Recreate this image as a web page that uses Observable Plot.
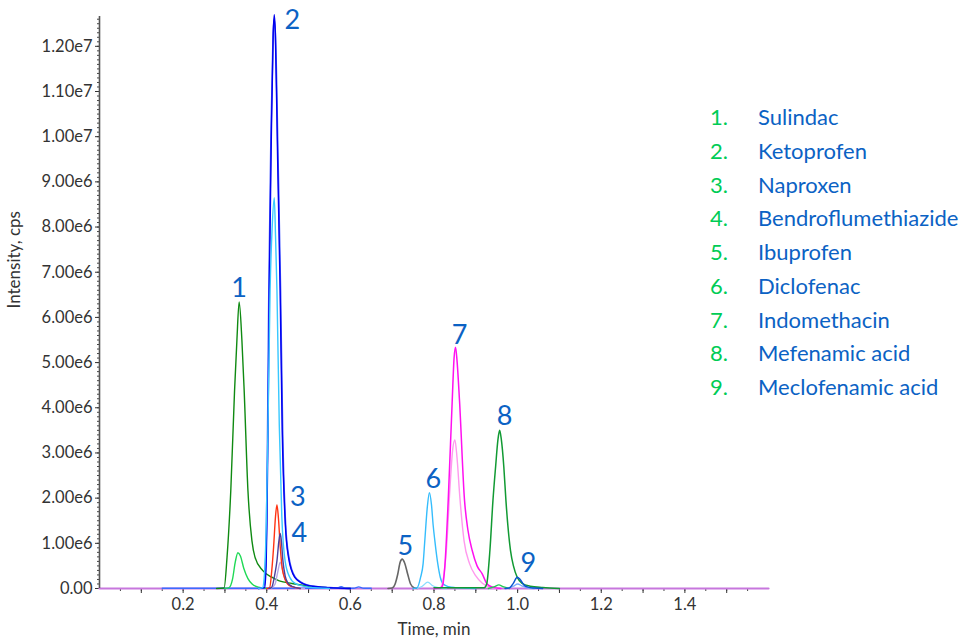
<!DOCTYPE html>
<html><head><meta charset="utf-8">
<script src="https://cdn.jsdelivr.net/npm/d3@7"></script>
<script src="https://cdn.jsdelivr.net/npm/@observablehq/plot@0.6"></script>
<style>
body{margin:0;background:#fff;font-family:Lato,"Open Sans",sans-serif;}
#wrap{position:relative;width:965px;height:638px;overflow:hidden;}
#legend{position:absolute;left:710px;top:100px;font-size:22px;}
#legend .row{height:33.75px;line-height:33.75px;white-space:nowrap;}
#legend .num{display:inline-block;width:48px;color:#00cc55;}
#legend .name{color:#0b62c4;}
</style></head><body><div id="wrap"><div id="legend"></div></div>
<script>
// ---- data (time in min, intensity in 1e6 cps) ----
const compounds = ["Sulindac","Ketoprofen","Naproxen","Bendroflumethiazide","Ibuprofen","Diclofenac","Indomethacin","Mefenamic acid","Meclofenamic acid"];
const peakNumbers = ["1","2","3","4","5","6","7","8","9"];

const baselineTrace = [[0,0],[1.6,0]];
const blueBaseTrace = [[0.15,0.005],[0.565,0.005],[0.578,0.04],[0.59,0.005],[0.608,0.005],[0.62,0.035],[0.632,0.005],[0.65,0.005]];
const sulindacTrace = [[0.28,0],[0.298,0.01],[0.305,0.69],[0.314,2.17],[0.323,4.38],[0.3286,5.49],[0.334,6.34],[0.3406,5.49],[0.346,4.38],[0.355,2.17],[0.3645,1.06],[0.372,0.69],[0.39,0.4],[0.412,0.25],[0.43,0.17],[0.46,0.11],[0.5,0.05],[0.55,0.02],[0.6,0]];
const sulindacSmallTrace = [[0.30,0],[0.31,0.02],[0.318,0.2],[0.325,0.6],[0.331,0.79],[0.337,0.72],[0.345,0.45],[0.355,0.22],[0.365,0.1],[0.38,0.03],[0.40,0]];
const ketoprofenTrace = [[0.38,0],[0.395,0.02],[0.3985,0.5],[0.4004,1.44],[0.403,3.5],[0.406,6.6],[0.411,10.0],[0.4155,12.3],[0.418,12.7],[0.4205,12.3],[0.426,9.5],[0.432,6.6],[0.437,3.5],[0.4443,1.44],[0.452,0.69],[0.4667,0.25],[0.484,0.12],[0.51,0.05],[0.55,0.02],[0.6,0]];
const ketoprofenRepTrace = [[0.38,0],[0.393,0.02],[0.397,0.5],[0.3995,1.44],[0.402,3.5],[0.405,6.6],[0.410,10.0],[0.415,12.2],[0.418,12.6],[0.421,12.2],[0.427,9.5],[0.433,6.6],[0.438,3.5],[0.445,1.44],[0.453,0.69],[0.468,0.25],[0.486,0.12],[0.51,0.05],[0.55,0.02],[0.6,0]];
const ketoprofenLowTrace = [[0.38,0],[0.39,0.02],[0.395,0.4],[0.399,1.5],[0.403,3.6],[0.408,6.6],[0.413,8.0],[0.418,8.65],[0.421,7.8],[0.4244,6.6],[0.43,3.6],[0.436,1.6],[0.444,0.6],[0.455,0.25],[0.47,0.1],[0.5,0.03],[0.55,0]];
const naproxenTrace = [[0.40,0],[0.407,0.02],[0.412,0.4],[0.4164,0.92],[0.421,1.6],[0.4244,1.85],[0.428,1.55],[0.4323,0.92],[0.437,0.45],[0.443,0.22],[0.45,0.1],[0.46,0.04],[0.48,0]];
const bendroTrace = [[0.405,0],[0.412,0.03],[0.42,0.35],[0.4244,0.61],[0.429,1.05],[0.4323,1.22],[0.435,1.05],[0.4387,0.61],[0.444,0.28],[0.45,0.13],[0.46,0.05],[0.48,0]];
const bendroLowTrace = [[0.41,0],[0.42,0.1],[0.426,0.35],[0.4323,0.58],[0.438,0.4],[0.444,0.2],[0.455,0.07],[0.47,0.02],[0.49,0]];
const ibuprofenTrace = [[0.69,0],[0.70,0.01],[0.707,0.1],[0.7134,0.32],[0.719,0.58],[0.724,0.65],[0.73,0.56],[0.737,0.32],[0.744,0.1],[0.752,0.02],[0.76,0]];
const diclofenacTrace = [[0.75,0],[0.76,0.02],[0.768,0.25],[0.774,0.55],[0.778,1.06],[0.784,1.8],[0.789,2.12],[0.794,1.85],[0.798,1.4],[0.802,1.06],[0.809,0.55],[0.815,0.25],[0.822,0.1],[0.835,0.04],[0.85,0.02],[0.9,0]];
const diclofenacLowTrace = [[0.76,0],[0.772,0.05],[0.785,0.14],[0.797,0.06],[0.81,0.02],[0.83,0]];
const indomethacinTrace = [[0.80,0],[0.815,0.01],[0.82,0.05],[0.826,0.5],[0.834,1.95],[0.8436,4.16],[0.848,5.1],[0.8515,5.34],[0.855,5.05],[0.861,4.16],[0.873,1.95],[0.881,1.3],[0.8914,0.84],[0.903,0.5],[0.915,0.33],[0.927,0.1],[0.94,0.03],[0.96,0]];
const indomethacinLowTrace = [[0.80,0],[0.815,0.02],[0.822,0.2],[0.83,0.9],[0.838,2.2],[0.845,3.1],[0.85,3.29],[0.855,2.9],[0.862,2.0],[0.872,1.05],[0.885,0.55],[0.9,0.28],[0.915,0.12],[0.93,0.04],[0.95,0]];
const mefenamicTrace = [[0.80,0.015],[0.92,0.015],[0.926,0.1],[0.9337,0.84],[0.941,1.95],[0.9473,2.69],[0.953,3.3],[0.957,3.5],[0.961,3.3],[0.967,2.69],[0.972,1.95],[0.983,0.84],[0.99,0.5],[0.999,0.25],[1.01,0.12],[1.03,0.05],[1.06,0.02],[1.1,0]];
const mefenamicLowTrace = [[0.93,0],[0.945,0.04],[0.955,0.08],[0.965,0.04],[0.98,0]];
const meclofenamicTrace = [[0.97,0],[0.98,0.01],[0.99,0.12],[0.999,0.25],[1.006,0.2],[1.015,0.08],[1.025,0.03],[1.04,0.01],[1.06,0]];
const meclofenamicLowTrace = [[0.975,0],[0.99,0.05],[1.0,0.1],[1.01,0.06],[1.025,0.01],[1.04,0]];

const yTickValues = [0,1,2,3,4,5,6,7,8,9,10,11,12];
const xTickValues = [0.1,0.2,0.3,0.4,0.5,0.6,0.7,0.8,0.9,1.0,1.1,1.2,1.3,1.4,1.5];
const xTickLabels = ["0.2","0.4","0.6","0.8","1.0","1.2","1.4"];
const axisTitles = {x: "Time, min", y: "Intensity, cps"};

// ---- styles ----
const traces = [
  {pts: baselineTrace, color: "#c777dd", w: 2.2},
  {pts: blueBaseTrace, color: "#3a6cff", w: 1.3},
  {pts: sulindacTrace, color: "#0f8a12", w: 1.4},
  {pts: sulindacSmallTrace, color: "#1fd955", w: 1.4},
  {pts: ketoprofenRepTrace, color: "#4a5cff", w: 1.6},
  {pts: ketoprofenTrace, color: "#0000ee", w: 1.4},
  {pts: ketoprofenLowTrace, color: "#38c8ff", w: 1.4},
  {pts: bendroLowTrace, color: "#b8a8e8", w: 1.4},
  {pts: naproxenTrace, color: "#ff3312", w: 1.4},
  {pts: bendroTrace, color: "#4b3f9c", w: 1.4},
  {pts: ibuprofenTrace, color: "#666666", w: 1.6},
  {pts: diclofenacLowTrace, color: "#88ddff", w: 1.3},
  {pts: diclofenacTrace, color: "#35bdfc", w: 1.4},
  {pts: indomethacinLowTrace, color: "#ff99ee", w: 1.4},
  {pts: indomethacinTrace, color: "#ff10f0", w: 1.5},
  {pts: mefenamicLowTrace, color: "#22cc55", w: 1.3},
  {pts: mefenamicTrace, color: "#119a33", w: 1.5},
  {pts: meclofenamicLowTrace, color: "#77aaff", w: 1.3},
  {pts: meclofenamicTrace, color: "#0a55d0", w: 1.5}
];
// label anchored at apex of trace, offsets in px
const labelStyle = [
  {trace: sulindacTrace, dx: 0, dy: -14},
  {trace: ketoprofenTrace, dx: 18, dy: 6},
  {trace: naproxenTrace, dx: 21, dy: -8},
  {trace: bendroTrace, dx: 19, dy: 0},
  {trace: ibuprofenTrace, dx: 3, dy: -13},
  {trace: diclofenacTrace, dx: 4, dy: -13},
  {trace: indomethacinTrace, dx: 4, dy: -12},
  {trace: mefenamicTrace, dx: 5, dy: -14},
  {trace: meclofenamicTrace, dx: 11, dy: -14}
];

const labels = peakNumbers.map((n, i) => {
  const apex = d3.greatest(labelStyle[i].trace, d => d[1]);
  return {n, t: apex[0], v: apex[1], dx: labelStyle[i].dx, dy: labelStyle[i].dy};
});

const fmtY = v => v === 0 ? "0.00" : d3.format(".2e")(v * 1e6).replace("+", "");
const yMinor = d3.range(0, 127).map(i => i / 10);
const xMinor = d3.range(1, 32).map(i => i / 20);

const marks = [
  Plot.axisY(yMinor, {tickSize: 2, text: null, stroke: "#444", label: null}),
  Plot.axisY(yTickValues, {tickSize: 4, tickPadding: 3, tickFormat: fmtY, fontSize: 16.5, label: null}),
  Plot.axisX(xMinor, {tickSize: 3, text: null, stroke: "#444", label: null}),
  Plot.axisX(xTickValues, {tickSize: 5, tickPadding: 5, fontSize: 16.5, label: null,
    tickFormat: d => xTickLabels.includes(d.toFixed(1)) ? d.toFixed(1) : ""}),
  Plot.text([axisTitles.y], {frameAnchor: "left", rotate: -90, dx: -85, dy: 6, fontSize: 17, fill: "#333"}),
  Plot.text([axisTitles.x], {frameAnchor: "bottom", lineAnchor: "middle", dy: 41, fontSize: 17, fill: "#333"}),
  Plot.ruleY([0], {stroke: "#777", strokeWidth: 1})
];
for (const tr of traces) {
  marks.push(Plot.line(tr.pts, {x: d => d[0], y: d => d[1], stroke: tr.color, strokeWidth: tr.w, curve: "monotone-x"}));
}
marks.push(Plot.ruleX([0], {stroke: "#555", strokeWidth: 1.6}));
for (const lb of labels) {
  marks.push(Plot.text([lb], {x: "t", y: "v", text: "n", dx: lb.dx, dy: lb.dy, fontSize: 27, fill: "#0b62c4", textAnchor: "middle", lineAnchor: "middle"}));
}

const chart = Plot.plot({
  width: 965, height: 638,
  marginLeft: 99, marginRight: 197, marginTop: 16, marginBottom: 50,
  style: {fontFamily: "Lato, 'Open Sans', sans-serif", color: "#333", background: "#fff"},
  x: {domain: [0, 1.6], label: null},
  y: {domain: [0, 12.66], label: null},
  marks
});
document.getElementById("wrap").prepend(chart);

const legend = document.getElementById("legend");
compounds.forEach((c, i) => {
  const row = document.createElement("div");
  row.className = "row";
  row.innerHTML = `<span class="num">${peakNumbers[i]}.</span><span class="name">${c}</span>`;
  legend.appendChild(row);
});
</script></body></html>
